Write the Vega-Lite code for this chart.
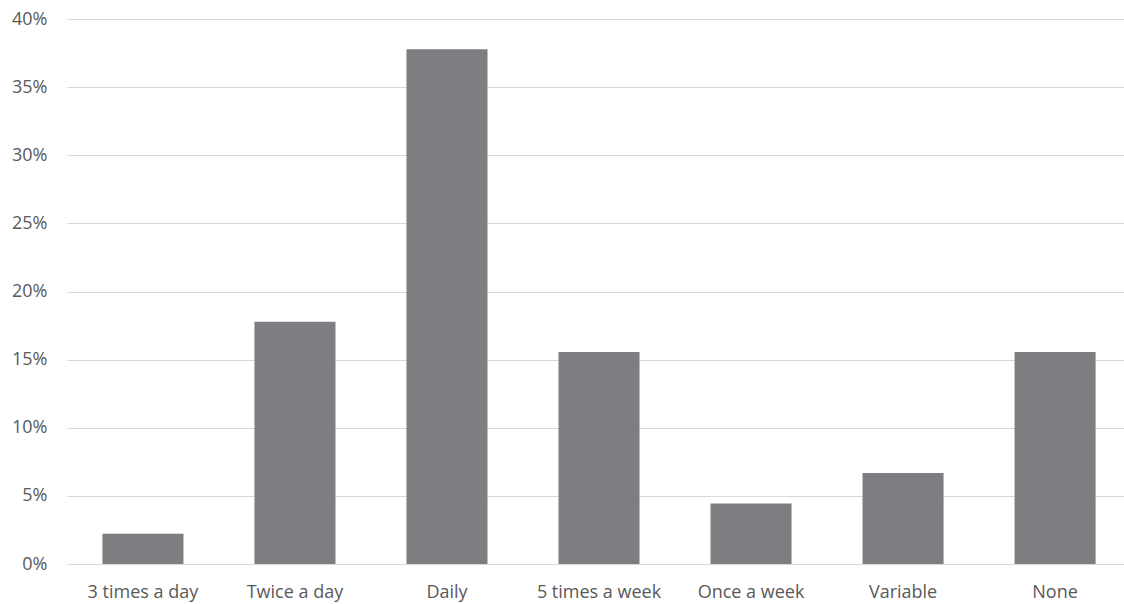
{
  "$schema": "https://vega.github.io/schema/vega-lite/v6.json",
  "width": 1057,
  "height": 545,
  "autosize": {"type": "none"},
  "padding": {"left": 67, "top": 19, "right": 0, "bottom": 40},
  "background": "white",
  "config": {"view": {"stroke": null}, "font": "Open Sans"},
  "data": {
    "values": [
      {"frequency": "3 times a day", "share": 0.0222},
      {"frequency": "Twice a day", "share": 0.1778},
      {"frequency": "Daily", "share": 0.3778},
      {"frequency": "5 times a week", "share": 0.1556},
      {"frequency": "Once a week", "share": 0.0444},
      {"frequency": "Variable", "share": 0.0667},
      {"frequency": "None", "share": 0.1556}
    ]
  },
  "mark": {"type": "bar", "color": "#7d7e82"},
  "encoding": {
    "x": {
      "field": "frequency",
      "type": "nominal",
      "sort": null,
      "scale": {"paddingInner": 0.467, "paddingOuter": 0.21, "align": 0.555},
      "axis": {
        "title": null,
        "labelAngle": 0,
        "ticks": false,
        "domain": false,
        "labelFont": "Open Sans",
        "labelFontSize": 18,
        "labelColor": "#595959",
        "labelPadding": 19
      }
    },
    "y": {
      "field": "share",
      "type": "quantitative",
      "scale": {"domain": [0, 0.4], "nice": false},
      "axis": {
        "title": null,
        "format": ".0%",
        "values": [0, 0.05, 0.1, 0.15, 0.2, 0.25, 0.3, 0.35, 0.4],
        "ticks": false,
        "domain": false,
        "grid": true,
        "gridColor": "#d9d9d9",
        "gridWidth": 1,
        "labelFont": "Open Sans",
        "labelFontSize": 18,
        "labelColor": "#595959",
        "labelPadding": 20
      }
    }
  }
}
